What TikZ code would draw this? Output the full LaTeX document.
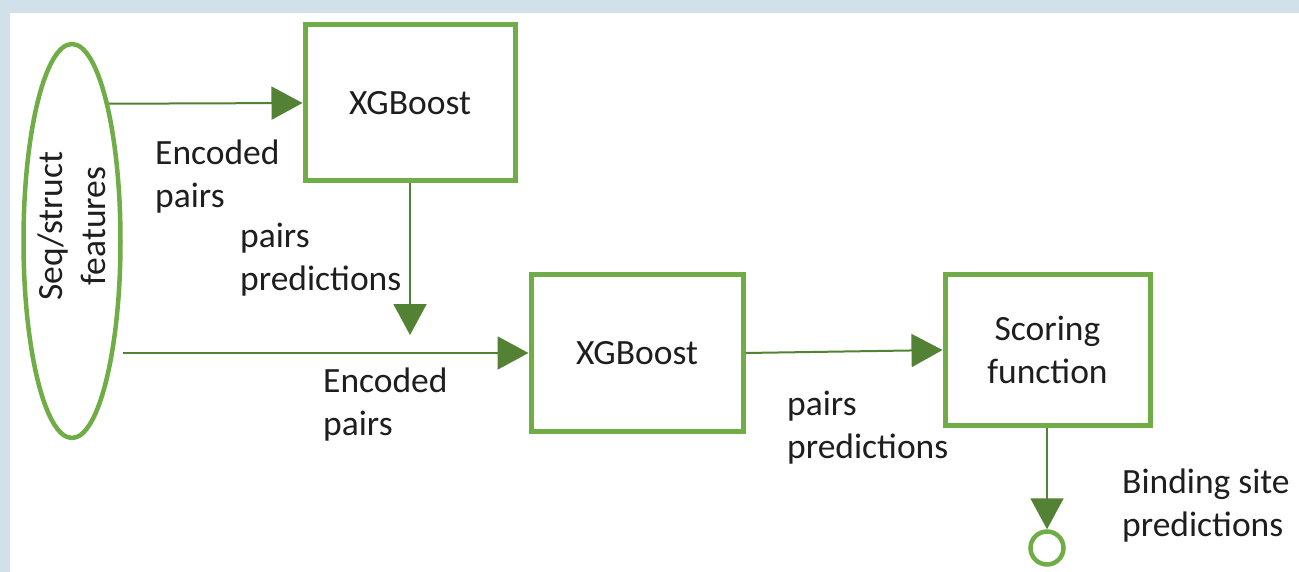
\documentclass[tikz,border=0pt]{standalone}
\usepackage{fontspec}
\setmainfont{Carlito}
\usetikzlibrary{arrows.meta,shapes.geometric}
\definecolor{bgblue}{HTML}{D0E1EA}
\definecolor{boxgreen}{HTML}{70AD47}
\definecolor{arrgreen}{HTML}{548235}
\definecolor{txt}{HTML}{1E1E1E}
\begin{document}
\begin{tikzpicture}[x=1pt,y=-1pt,
  every node/.style={font=\fontsize{35.5}{43}\selectfont, text=txt},
  box/.style={draw=boxgreen, line width=5pt, rectangle, align=center, inner sep=0pt},
  featshape/.style={draw=boxgreen, line width=4.5pt, ellipse, inner sep=0pt},
  arr/.style={draw=arrgreen, line width=2pt, -{Triangle[length=31pt,width=33pt]}},
  lbl/.style={anchor=base west, inner sep=0pt}]
\useasboundingbox (0,0) rectangle (1299,572);
\fill[bgblue] (0,0) rectangle (1299,572);
\fill[white] (10,13) rectangle (1299,572);

% nodes
\node[featshape, minimum width=97pt, minimum height=394pt] (feat) at (72,241) {};
\node[rotate=90, align=center, inner sep=0pt] (ftxt) at (72,226) {Seq/struct\\features};
\node[box, minimum width=210pt, minimum height=156pt] (box1) at (410,103) {XGBoost};
\node[box, minimum width=212pt, minimum height=156pt] (box2) at (637,353) {XGBoost};
\node[box, minimum width=205pt, minimum height=150pt] (box3) at (1047.5,350) {Scoring\\function};
\node[draw=boxgreen, line width=4.5pt, circle, minimum size=33pt, inner sep=0pt] (out) at (1047,548) {};
\path (box1.south) ++(0,151.5) coordinate (d1);

% connectors
\draw[arr] (feat.75) -- (box1.west);
\draw[arr] (box1.south) -- (d1);
\draw[arr] (feat.east |- box2.west) -- (box2.west);
\draw[arr] (box2.east) -- (box3.west);
\draw[arr] (box3.south -| out.north) -- (out.north);

% labels
\node[lbl] (l1) at (155,165) {\parbox[t]{300pt}{\raggedright Encoded\\pairs}};
\node[lbl] (l2) at (240,248) {\parbox[t]{300pt}{\raggedright pairs\\predictions}};
\node[lbl] (l3) at (323,392) {\parbox[t]{300pt}{\raggedright Encoded\\pairs}};
\node[lbl] (l4) at (787,415) {\parbox[t]{300pt}{\raggedright pairs\\predictions}};
\node[lbl] (l5) at (1122,493) {\parbox[t]{300pt}{\raggedright Binding site\\predictions}};
\end{tikzpicture}
\end{document}
